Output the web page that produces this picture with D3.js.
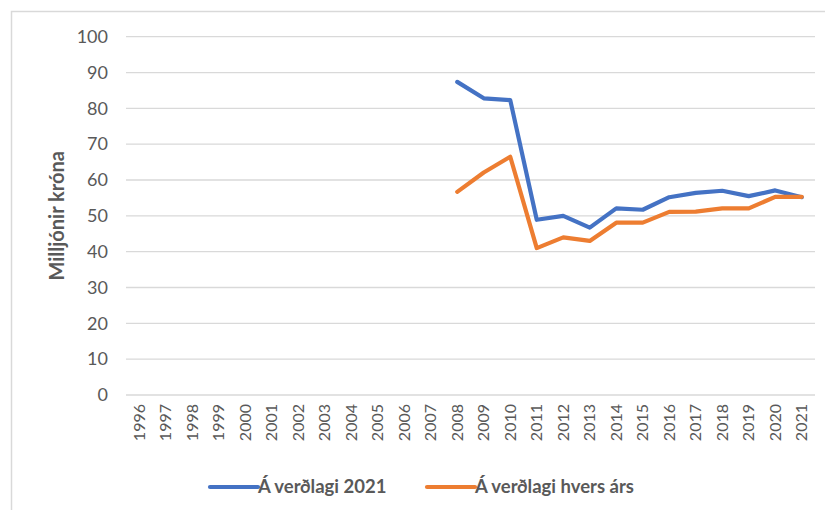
<!DOCTYPE html>
<html>
<head>
<meta charset="utf-8">
<script src="https://cdn.jsdelivr.net/npm/d3@7"></script>
<style>
  body { margin: 0; background: #fff; }
  text { font-family: Lato, "Open Sans", sans-serif; fill: #595959; }
</style>
</head>
<body>
<div id="container"></div>
<script>
/** CONSTANTS AND GLOBALS */
const width = 825,
  height = 510,
  margin = { top: 36.7, bottom: 115, left: 126, right: 10 };

// data (millions of krónur)
const years = d3.range(1996, 2022).map(String);
const yTicks = [0, 10, 20, 30, 40, 50, 60, 70, 80, 90, 100];
const seriesNames = ["Á verðlagi 2021", "Á verðlagi hvers árs"];
const seriesColors = ["#4472C4", "#ED7D31"];
const dataYears = ["2008", "2009", "2010", "2011", "2012", "2013", "2014",
  "2015", "2016", "2017", "2018", "2019", "2020", "2021"];
const fixedPrices = [87.4, 82.8, 82.3, 48.9, 50.0, 46.7, 52.1, 51.7, 55.2, 56.4, 57.0, 55.5, 57.1, 55.2];
const currentPrices = [56.7, 62.1, 66.5, 41.0, 44.0, 43.0, 48.1, 48.1, 51.1, 51.2, 52.1, 52.1, 55.3, 55.3];

let svg;

init();

/** INITIALIZING FUNCTION */
function init() {
  svg = d3.select("#container")
    .append("svg")
    .attr("width", width)
    .attr("height", height);

  // chart area border (top and left edges visible)
  svg.append("path")
    .attr("d", `M11.5,${height} V11.5 H${width}`)
    .attr("fill", "none")
    .attr("stroke", "#d9d9d9")
    .attr("stroke-width", 1.5);

  const x = d3.scaleBand()
    .domain(years)
    .range([margin.left, 815]);

  const y = d3.scaleLinear()
    .domain([0, 100])
    .range([395, margin.top]);

  // gridlines
  svg.append("g")
    .selectAll("line")
    .data(yTicks)
    .join("line")
    .attr("x1", margin.left)
    .attr("x2", 815)
    .attr("y1", d => y(d))
    .attr("y2", d => y(d))
    .attr("stroke", "#d9d9d9")
    .attr("stroke-width", 1.3);

  // y axis labels
  const yAxis = svg.append("g")
    .attr("transform", `translate(${margin.left - 18},0)`)
    .call(d3.axisLeft(y).tickValues(yTicks).tickSize(0).tickPadding(0));
  yAxis.select(".domain").remove();
  yAxis.selectAll("text")
    .style("font-size", "18px")
    .attr("fill", "#595959");

  // x axis labels, rotated
  const xAxis = svg.append("g")
    .attr("transform", `translate(0,${y(0)})`)
    .call(d3.axisBottom(x).tickSize(0));
  xAxis.select(".domain").remove();
  xAxis.selectAll("text")
    .style("font-size", "16px")
    .attr("fill", "#595959")
    .attr("transform", "rotate(-90)")
    .attr("text-anchor", "end")
    .attr("x", -9)
    .attr("y", 0)
    .attr("dy", "0.35em");

  // y axis title
  svg.append("text")
    .attr("transform", `translate(64,${(y(0) + y(100)) / 2}) rotate(-90)`)
    .attr("text-anchor", "middle")
    .style("font-size", "20px")
    .style("font-weight", "bold")
    .text("Milljónir króna");

  // lines
  const seriesValues = [fixedPrices, currentPrices];
  const line = d3.line()
    .x((d, i) => x(dataYears[i]) + x.bandwidth() / 2)
    .y(d => y(d));

  svg.append("g")
    .selectAll("path")
    .data(seriesValues)
    .join("path")
    .attr("d", d => line(d))
    .attr("fill", "none")
    .attr("stroke", (d, i) => seriesColors[i])
    .attr("stroke-width", 4.2)
    .attr("stroke-linejoin", "round")
    .attr("stroke-linecap", "round");

  // legend
  const legendX = [210, 427];
  const legend = svg.append("g")
    .selectAll("g")
    .data(seriesNames)
    .join("g")
    .attr("transform", (d, i) => `translate(${legendX[i]},487)`);

  legend.append("line")
    .attr("x1", 0)
    .attr("x2", 48)
    .attr("stroke", (d, i) => seriesColors[i])
    .attr("stroke-width", 4.2)
    .attr("stroke-linecap", "round");

  legend.append("text")
    .attr("x", 48)
    .attr("dy", "0.35em")
    .style("font-size", "18.5px")
    .style("font-weight", "bold")
    .text(d => d);
}
</script>
</body>
</html>
